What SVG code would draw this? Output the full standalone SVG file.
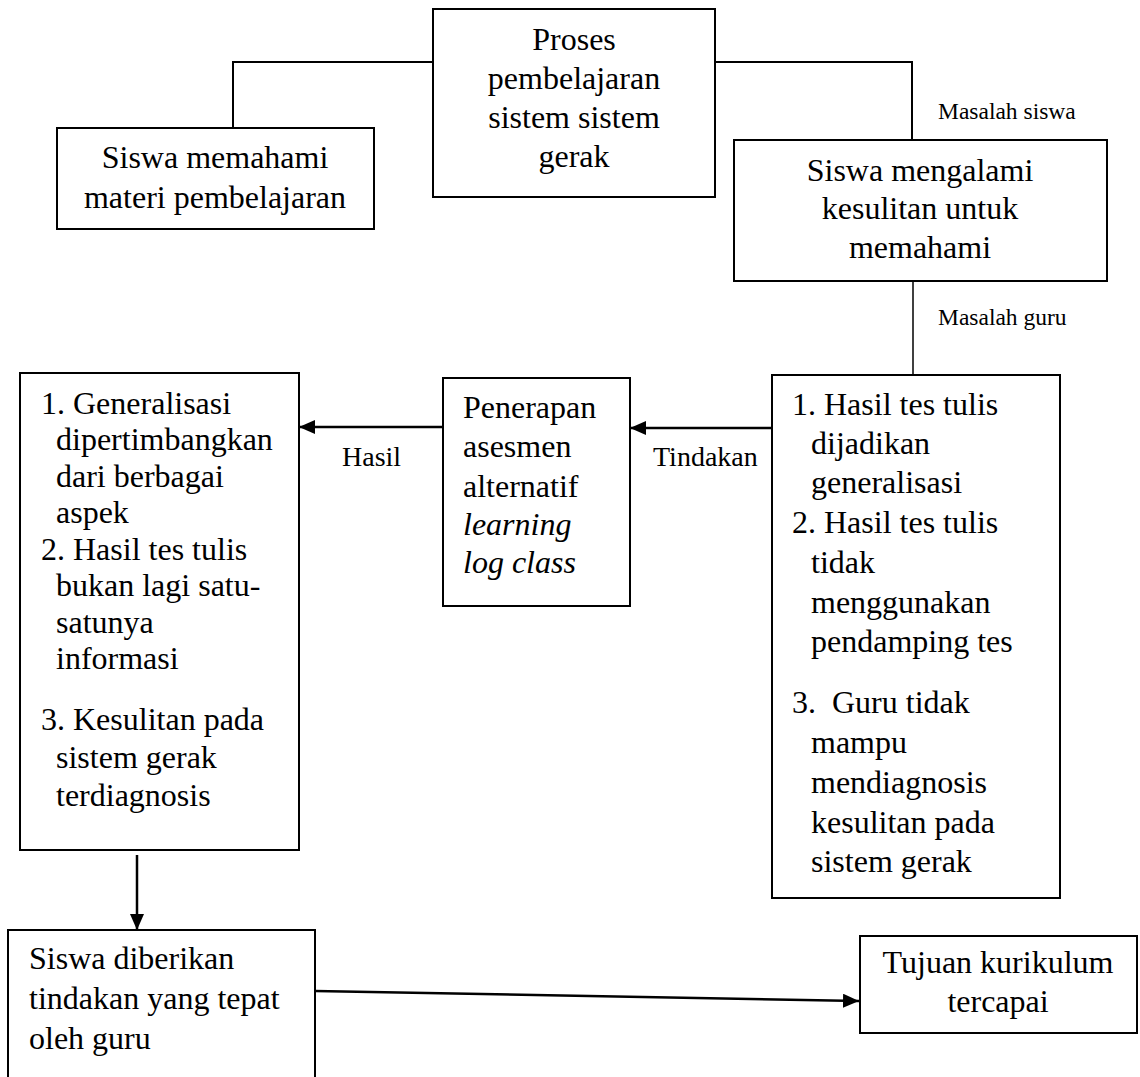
<svg xmlns="http://www.w3.org/2000/svg" width="1140" height="1077" viewBox="0 0 1140 1077">
<style>
  .box { fill: #ffffff; stroke: #000000; stroke-width: 2; }
  .t { font-family: "Liberation Serif", "Times New Roman", serif; font-size: 32px; fill: #000000; }
  .c { text-anchor: middle; }
  .i { font-style: italic; }
  .lbl { font-family: "Liberation Serif", "Times New Roman", serif; font-size: 28px; fill: #000000; }
  .lbls { font-family: "Liberation Serif", "Times New Roman", serif; font-size: 23.5px; fill: #000000; }
  .ln { fill: none; stroke: #000000; stroke-width: 2; }
  .ar { fill: none; stroke: #000000; stroke-width: 2.5; marker-end: url(#ah); }
</style>
<defs>
  <marker id="ah" markerUnits="userSpaceOnUse" markerWidth="16" markerHeight="14" refX="16" refY="7" orient="auto">
    <path d="M0,0 L16,7 L0,14 z" fill="#000000"/>
  </marker>
</defs>
<rect width="1140" height="1077" fill="#ffffff"/>

<g id="connectors">
  <path class="ln" d="M433,62 H233 V128"/>
  <path class="ln" d="M715,62 H912 V140"/>
  <path class="ln" style="stroke-width:1.5" d="M913,281 V375"/>
  <path class="ar" d="M771,428 H630"/>
  <path class="ar" d="M443,427 H299"/>
  <path class="ar" d="M137,855 V930"/>
  <path class="ar" d="M315,991 L859,1001"/>
  <text class="lbls" x="938" y="119">Masalah siswa</text>
  <text class="lbls" x="938" y="325">Masalah guru</text>
  <text class="lbl" x="653" y="466">Tindakan</text>
  <text class="lbl" x="342" y="466">Hasil</text>
</g>

<g id="node-proses">
  <rect class="box" x="433" y="9" width="282" height="188"/>
  <text class="t c" x="574" y="50">Proses</text>
  <text class="t c" x="574" y="89">pembelajaran</text>
  <text class="t c" x="574" y="128">sistem sistem</text>
  <text class="t c" x="574" y="167">gerak</text>
</g>

<g id="node-memahami">
  <rect class="box" x="57" y="128" width="317" height="101"/>
  <text class="t c" x="215" y="168">Siswa memahami</text>
  <text class="t c" x="215" y="208">materi pembelajaran</text>
</g>

<g id="node-mengalami">
  <rect class="box" x="734" y="140" width="373" height="141"/>
  <text class="t c" x="920" y="181">Siswa mengalami</text>
  <text class="t c" x="920" y="219">kesulitan untuk</text>
  <text class="t c" x="920" y="258">memahami</text>
</g>

<g id="node-masalah-guru">
  <rect class="box" x="772" y="375" width="288" height="523"/>
  <text class="t" x="792" y="415">1. Hasil tes tulis</text>
  <text class="t" x="811" y="454">dijadikan</text>
  <text class="t" x="811" y="493">generalisasi</text>
  <text class="t" x="792" y="533">2. Hasil tes tulis</text>
  <text class="t" x="811" y="573">tidak</text>
  <text class="t" x="811" y="613">menggunakan</text>
  <text class="t" x="811" y="652">pendamping tes</text>
  <text class="t" x="792" y="713" style="white-space:pre">3.  Guru tidak</text>
  <text class="t" x="811" y="753">mampu</text>
  <text class="t" x="811" y="793">mendiagnosis</text>
  <text class="t" x="811" y="833">kesulitan pada</text>
  <text class="t" x="811" y="872">sistem gerak</text>
</g>

<g id="node-penerapan">
  <rect class="box" x="443" y="378" width="187" height="228"/>
  <text class="t" x="463" y="418">Penerapan</text>
  <text class="t" x="463" y="457">asesmen</text>
  <text class="t" x="463" y="497">alternatif</text>
  <text class="t i" x="463" y="535">learning</text>
  <text class="t i" x="463" y="573">log class</text>
</g>

<g id="node-hasil">
  <rect class="box" x="20" y="373" width="279" height="477"/>
  <text class="t" x="41" y="414">1. Generalisasi</text>
  <text class="t" x="56" y="450">dipertimbangkan</text>
  <text class="t" x="56" y="487">dari berbagai</text>
  <text class="t" x="56" y="523">aspek</text>
  <text class="t" x="41" y="560">2. Hasil tes tulis</text>
  <text class="t" x="56" y="596">bukan lagi satu-</text>
  <text class="t" x="56" y="633">satunya</text>
  <text class="t" x="56" y="669">informasi</text>
  <text class="t" x="41" y="730">3. Kesulitan pada</text>
  <text class="t" x="56" y="768">sistem gerak</text>
  <text class="t" x="56" y="806">terdiagnosis</text>
</g>

<g id="node-tindakan-guru">
  <path class="box" d="M8,1080 V930 H315 V1080"/>
  <text class="t" x="29" y="969">Siswa diberikan</text>
  <text class="t" x="29" y="1009">tindakan yang tepat</text>
  <text class="t" x="29" y="1049">oleh guru</text>
</g>

<g id="node-tujuan">
  <rect class="box" x="860" y="936" width="277" height="97"/>
  <text class="t c" x="998" y="973">Tujuan kurikulum</text>
  <text class="t c" x="998" y="1012">tercapai</text>
</g>
</svg>
